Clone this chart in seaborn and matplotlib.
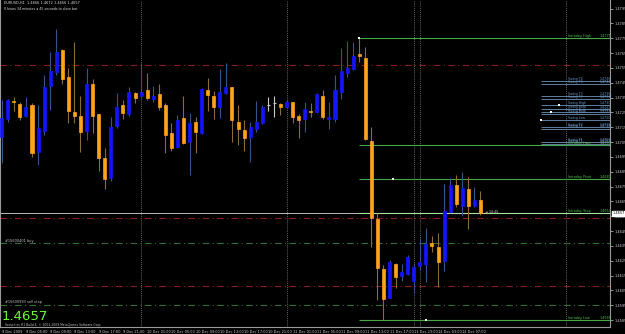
import numpy as np
import pandas as pd
import matplotlib
matplotlib.use("Agg")
import matplotlib.pyplot as plt
import seaborn as sns

# ---------------- data (EURUSD H1) ----------------
opens = [1.47087, 1.47206, 1.47329, 1.47307, 1.47228, 1.47300, 1.46985, 1.47127, 1.47430, 1.47525,
         1.47671, 1.47489, 1.47251, 1.47228, 1.47127, 1.47442, 1.47240, 1.46945, 1.46810, 1.47159,
         1.47300, 1.47240, 1.47379, 1.47361, 1.47401, 1.47339, 1.47375, 1.47300, 1.47110, 1.47019,
         1.47211, 1.47053, 1.47188, 1.47110, 1.47401, 1.47361, 1.47289, 1.47379, 1.47420, 1.47188,
         1.47132, 1.47087, 1.47139, 1.47177, 1.47298, 1.47312, 1.47307, 1.47289, 1.47319, 1.47228,
         1.47208, 1.47262, 1.47251, 1.47361, 1.47208, 1.47208, 1.47390, 1.47518, 1.47541, 1.47641,
         1.47615, 1.47058, 1.46532, 1.46192, 1.46001, 1.46228, 1.46149, 1.46159, 1.46116, 1.46217,
         1.46230, 1.46368, 1.46341, 1.46250, 1.46581, 1.46761, 1.46621, 1.46734, 1.46621, 1.46660]
highs = [1.47334, 1.47339, 1.47352, 1.47319, 1.47352, 1.47312, 1.47300, 1.47503, 1.47660, 1.47811,
         1.47676, 1.47548, 1.47727, 1.47361, 1.47548, 1.47474, 1.47240, 1.47008, 1.47217, 1.47379,
         1.47334, 1.47424, 1.47390, 1.47581, 1.47514, 1.47428, 1.47442, 1.47312, 1.47177, 1.47233,
         1.47361, 1.47248, 1.47221, 1.47413, 1.47480, 1.47397, 1.47541, 1.47586, 1.47424, 1.47300,
         1.47199, 1.47188, 1.47329, 1.47300, 1.47352, 1.47361, 1.47316, 1.47334, 1.47323, 1.47240,
         1.47323, 1.47312, 1.47379, 1.47401, 1.47323, 1.47503, 1.47683, 1.47734, 1.47727, 1.47752,
         1.47689, 1.47150, 1.46574, 1.46221, 1.46255, 1.46237, 1.46228, 1.46289, 1.46237, 1.46401,
         1.46469, 1.46419, 1.46439, 1.46768, 1.46810, 1.46828, 1.46851, 1.46813, 1.46749, 1.46720]
lows = [1.46907, 1.47188, 1.47262, 1.47199, 1.47221, 1.46952, 1.46896, 1.47098, 1.47267, 1.47503,
        1.47440, 1.47177, 1.47177, 1.46981, 1.47064, 1.47110, 1.46857, 1.46732, 1.46788, 1.47143,
        1.47204, 1.47226, 1.47316, 1.47345, 1.47334, 1.47321, 1.47267, 1.46979, 1.46990, 1.47008,
        1.47037, 1.46828, 1.46979, 1.47105, 1.47260, 1.47204, 1.47211, 1.47375, 1.47053, 1.47031,
        1.46992, 1.46918, 1.47120, 1.47172, 1.47262, 1.47217, 1.47233, 1.47278, 1.47177, 1.47076,
        1.47120, 1.47221, 1.47244, 1.47204, 1.47139, 1.47188, 1.47339, 1.47491, 1.47536, 1.47592,
        1.47064, 1.46345, 1.45985, 1.45850, 1.45997, 1.46064, 1.46116, 1.46154, 1.46031, 1.46188,
        1.46109, 1.46311, 1.46071, 1.46183, 1.46574, 1.46615, 1.46552, 1.46462, 1.46615, 1.46560]
closes = [1.47211, 1.47334, 1.47323, 1.47217, 1.47289, 1.46979, 1.47143, 1.47420, 1.47530, 1.47660,
          1.47476, 1.47262, 1.47228, 1.47120, 1.47442, 1.47226, 1.46941, 1.46799, 1.47150, 1.47289,
          1.47248, 1.47390, 1.47350, 1.47390, 1.47350, 1.47361, 1.47289, 1.47098, 1.47008, 1.47199,
          1.47046, 1.47177, 1.47116, 1.47408, 1.47368, 1.47289, 1.47390, 1.47420, 1.47199, 1.47139,
          1.47080, 1.47150, 1.47188, 1.47289, 1.47298, 1.47312, 1.47289, 1.47319, 1.47221, 1.47199,
          1.47271, 1.47251, 1.47375, 1.47217, 1.47221, 1.47401, 1.47530, 1.47552, 1.47631, 1.47631,
          1.47069, 1.46540, 1.46199, 1.45990, 1.46240, 1.46139, 1.46172, 1.46277, 1.46210, 1.46240,
          1.46361, 1.46350, 1.46240, 1.46588, 1.46761, 1.46631, 1.46743, 1.46621, 1.46660, 1.46570]

time_labels = ["9 Dec 2009", "9 Dec 05:00", "9 Dec 09:00", "9 Dec 13:00", "9 Dec 17:00",
               "9 Dec 21:00", "10 Dec 01:00", "10 Dec 05:00", "10 Dec 09:00", "10 Dec 13:00",
               "10 Dec 17:00", "10 Dec 21:00", "11 Dec 01:00", "11 Dec 05:00", "11 Dec 09:00",
               "11 Dec 13:00", "11 Dec 17:00", "13 Dec 23:00", "14 Dec 03:00", "14 Dec 07:00"]
time_label_bars = [0, 4, 8, 12, 16, 20, 24, 28, 32, 36, 40, 44, 48, 52, 56, 60, 64, 68, 72, 76]

separator_bars = [23, 47, 68, 69, 93.1]

price_ticks = [1.4585, 1.4595, 1.4605, 1.4615, 1.4625, 1.4635, 1.4645, 1.4655, 1.4665, 1.4675,
               1.4685, 1.4695, 1.4705, 1.4715, 1.4725, 1.4735, 1.4745, 1.4755, 1.4765, 1.4775,
               1.4785, 1.4795]

intraday_names = ["Intraday High", "Intraday Hwg", "Intraday Pivot", "Intraday Stop", "Intraday Low"]
intraday_values = [1.4775, 1.4703, 1.4680, 1.4657, 1.4585]
intraday_start = 59

swing_names = ["Swing T4", "Swing T4", "Swing T3", "Swing T3", "Swing High", "Swing Both",
               "Swing Both", "Swing Both", "Swing Low", "Swing T2", "Swing T2", "Swing T1", "Swing T1"]
swing_values = [1.4746, 1.4744, 1.4736, 1.4734, 1.4730, 1.4727, 1.4725, 1.4724, 1.4720,
                1.4715, 1.4714, 1.4705, 1.4704]
swing_start = 89

red_levels = [1.4757, 1.46535, 1.4608]
order_levels = [1.46367, 1.45949]
order_names = ["#15600401 buy", "#15600993 sell stop"]

marker_bars = [59, 64.5, 70, 89, 90.6, 92]
marker_prices = [1.4775, 1.4680, 1.4585, 1.4720, 1.4725, 1.4730]

last_price = 1.4657
header = "EURUSD,H1  1.4666 1.4672 1.4656 1.4657"
countdown = "0 hours 34 minutes a 45 seconds to close bar"

# ---------------- figure ----------------
sns.set_theme(style="dark")
plt.rcParams['font.family'] = ['DejaVu Sans']

W, H = 625, 334
fig = plt.figure(figsize=(W / 100, H / 100), dpi=100, facecolor="black")
ax = fig.add_axes([0, 7 / H, 610 / W, 327 / H])
ax.set_facecolor("black")

df = pd.DataFrame({"open": opens, "high": highs, "low": lows, "close": closes})
df["bar"] = np.arange(len(df))
df["bull"] = df["close"] > df["open"]
df["doji"] = (df["close"] - df["open"]).abs() < 1e-9

up_body, dn_body = "#1414ff", "#ffa31a"
up_wick, dn_wick = "#34558b", "#8b6b3a"

for _, r in df.iterrows():
    if r["doji"]:
        c = "#c8c8c8"
        ax.vlines(r["bar"], r["low"], r["high"], color=c, lw=0.8, zorder=3)
        ax.hlines(r["open"], r["bar"] - 0.3, r["bar"] + 0.3, color=c, lw=0.8, zorder=3)
        continue
    wc = up_wick if r["bull"] else dn_wick
    bc = up_body if r["bull"] else dn_body
    ax.vlines(r["bar"], r["low"], r["high"], color=wc, lw=0.8, zorder=2)
    lo, hi = min(r["open"], r["close"]), max(r["open"], r["close"])
    ax.bar(r["bar"], hi - lo, bottom=lo, width=0.5, color=bc, edgecolor=bc, lw=0.5, zorder=3)

xmin, xmax = -0.28, 100.38
ax.set_xlim(xmin, xmax)
ybot = 1.4775 - (327 - 38.3) / 14830
ytop = 1.4775 + 38.3 / 14830
ax.set_ylim(ybot, ytop)

# separators
for b in separator_bars:
    ax.axvline(b, color="#8a8a8a", lw=0.6, ls=(0, (1, 1.5)), zorder=1)

# red / order dash-dot lines
for v in red_levels:
    ax.axhline(v, color="#8b1c1c", lw=0.8, ls=(0, (6, 3, 1, 3)), zorder=1)
for v, n in zip(order_levels, order_names):
    ax.axhline(v, color="#2f6e2f", lw=0.8, ls=(0, (6, 3, 1, 3)), zorder=1)
    ax.text(0.6, v + 0.00006, n, color="#c8c8c8", fontsize=2.5, va="bottom", ha="left")

# current price line
ax.axhline(last_price, color="#b8b8b8", lw=0.7, zorder=1)

# swing lines and labels
for v, n in zip(swing_values, swing_names):
    ax.hlines(v, swing_start, xmax, color="#5f7f9f", lw=0.7, zorder=1)
    ax.text(93.4, v + 0.00002, n, color="#6a93c0", fontsize=2.3, va="bottom", ha="left")
    ax.text(98.7, v + 0.00002, f"{v:.4f}", color="#6a93c0", fontsize=2.3, va="bottom", ha="left")

# intraday lines
for v, n in zip(intraday_values, intraday_names):
    col = "#a8e0a0" if n == "Intraday Stop" else "#45a845"
    ax.hlines(v, intraday_start, xmax, color=col, lw=0.8, zorder=1)
    ax.text(93.4, v + 0.00003, n, color="#4fc04f", fontsize=2.4, va="bottom", ha="left")
    ax.text(98.7, v + 0.00003, f"{v:.4f}", color="#4fc04f", fontsize=2.4, va="bottom", ha="left")

# markers
sns.scatterplot(x=marker_bars, y=marker_prices, ax=ax, color="white", marker="s", s=2,
                linewidth=0, zorder=5, legend=False)

# countdown label
ax.text(len(df) - 0.2, last_price + 0.00012, "\u25c4 34:45", color="#c8c8c8", fontsize=2.4,
        va="center", ha="left")

# axes styling
ax.spines["top"].set_visible(False)
for s in ["left", "right", "bottom"]:
    ax.spines[s].set_color("#9a9a9a")
    ax.spines[s].set_linewidth(0.8)
ax.grid(False)
ax.yaxis.tick_right()
ax.set_yticks(price_ticks)
ax.set_yticklabels([f"{t:.4f}" for t in price_ticks])
ax.tick_params(axis="y", colors="#d0d0d0", labelsize=2.5, length=2, width=0.5, pad=1)
ax.set_xticks(time_label_bars)
ax.set_xticklabels(time_labels, ha="left")
ax.tick_params(axis="x", colors="#d0d0d0", labelsize=2.5, length=1.5, width=0.5, pad=0.8)
ax.set_xlabel("")
ax.set_ylabel("")

# price box on axis
ax.text(1.004, last_price, f"{last_price:.4f}", transform=ax.get_yaxis_transform(),
        fontsize=2.5, color="black", va="center", ha="left",
        bbox=dict(boxstyle="square,pad=0.2", fc="white", ec="white"), zorder=6, clip_on=False)

# header texts
fig.text(4 / W, 1 - 3.5 / H, header, color="#e0e0e0", fontsize=2.5, va="center", ha="left")
fig.text(4 / W, 1 - 8.5 / H, countdown, color="#e0e0e0", fontsize=2.3, va="center", ha="left")

# big price and copyright
fig.text(2 / W, 1 - 316.5 / H, f"{last_price:.4f}", color="#66ff33", fontsize=9.5, va="center", ha="left")
fig.text(5 / W, 1 - 324.8 / H, "Securities H1 Build 4, \u00a9 2001-2009 MetaQuotes Software Corp.",
         color="#c0c0c0", fontsize=2.2, va="center", ha="left")

fig.savefig("out.png", dpi=100, facecolor="black")
